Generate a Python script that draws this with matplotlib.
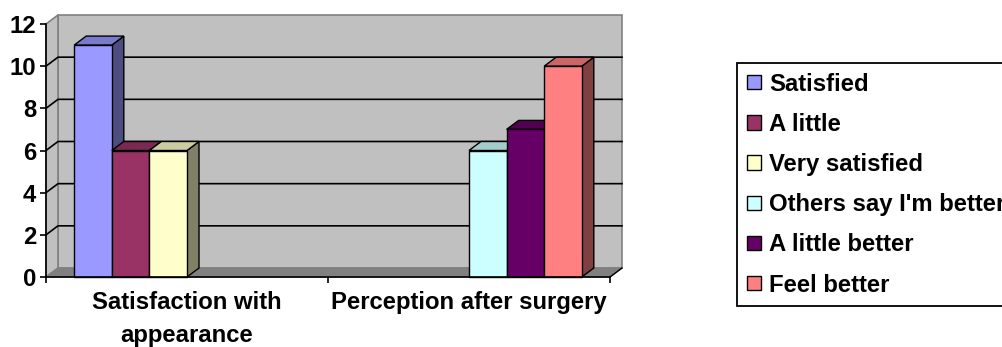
import matplotlib
matplotlib.use("Agg")
import matplotlib.pyplot as plt
from matplotlib.patches import Polygon, Patch

# ---- data -------------------------------------------------------------
categories = ["Satisfaction with\nappearance", "Perception after surgery"]
series_names = ["Satisfied", "A little", "Very satisfied",
                "Others say I'm better", "A little better", "Feel better"]
satisfied = [11, 0]
a_little = [6, 0]
very_satisfied = [6, 0]
others_say_better = [0, 6]
a_little_better = [0, 7]
feel_better = [0, 10]
series_values = [satisfied, a_little, very_satisfied,
                 others_say_better, a_little_better, feel_better]
series_colors = ["#9999FF", "#993366", "#FFFFCC",
                 "#CCFFFF", "#660066", "#FF8080"]
y_ticks = [0, 2, 4, 6, 8, 10, 12]

# ---- style ------------------------------------------------------------
plt.rcParams["font.family"] = ["Liberation Sans", "DejaVu Sans"]
plt.rcParams["font.weight"] = "bold"
FS = 17.2
WALL = "#C0C0C0"
FLOOR = "#808080"
WALL_EDGE = "#808080"
DEPTH_PX = (12, 9)           # oblique depth of walls and bars, in pixels

fig = plt.figure(figsize=(10.03, 3.47), dpi=100)
W, H = 1003, 347
ax = fig.add_axes([46 / W, 70 / H, 564 / W, 253 / H])
ax.set_xlim(0, len(categories))
ax.set_ylim(0, max(y_ticks))
ax.patch.set_visible(False)

# pixel depth -> data units
xr = ax.get_xlim()[1] - ax.get_xlim()[0]
yr = ax.get_ylim()[1] - ax.get_ylim()[0]
DX = DEPTH_PX[0] * xr / (564)
DY = DEPTH_PX[1] * yr / (253)
X0, X1 = ax.get_xlim()
Y0, Y1 = ax.get_ylim()


def poly(pts, fc, ec, lw=1.0, z=1):
    p = Polygon(pts, closed=True, facecolor=fc, edgecolor=ec, linewidth=lw,
                clip_on=False, zorder=z, joinstyle="miter")
    ax.add_patch(p)
    return p


# back wall, side wall, floor
poly([(X0 + DX, Y0 + DY), (X1 + DX, Y0 + DY), (X1 + DX, Y1 + DY), (X0 + DX, Y1 + DY)],
     WALL, WALL_EDGE, 1.2, 0.5)
poly([(X0, Y0), (X0 + DX, Y0 + DY), (X0 + DX, Y1 + DY), (X0, Y1)],
     WALL, WALL_EDGE, 1.2, 0.6)
poly([(X0, Y0), (X1, Y0), (X1 + DX, Y0 + DY), (X0 + DX, Y0 + DY)],
     FLOOR, WALL_EDGE, 1.0, 0.7)
ax.plot([X1, X1 + DX], [Y0, Y0 + DY], color="black", lw=1.0, clip_on=False, zorder=0.8)

# gridlines on the walls
for t in y_ticks[1:-1]:
    ax.plot([X0, X0 + DX, X1 + DX], [t, t + DY, t + DY], color="black",
            lw=1.2, clip_on=False, zorder=0.9)


def shade(color, f):
    r, g, b = matplotlib.colors.to_rgb(color)
    return (r * f, g * f, b * f)


# bars: six slots per category, gap 150% of a bar width split on both sides
n = len(series_values)
bw = 1.0 / (n + 1.5)
gap = 0.75 * bw
for ci in range(len(categories)):
    for si, (vals, col) in enumerate(zip(series_values, series_colors)):
        h = vals[ci]
        if h == 0:
            continue
        x0 = X0 + ci + gap + si * bw
        x1 = x0 + bw
        poly([(x1, 0), (x1 + DX, DY), (x1 + DX, h + DY), (x1, h)],
             shade(col, 0.5), "black", 1.0, 2)
        poly([(x0, h), (x0 + DX, h + DY), (x1 + DX, h + DY), (x1, h)],
             shade(col, 0.8), "black", 1.0, 2)
        poly([(x0, 0), (x1, 0), (x1, h), (x0, h)], col, "black", 1.0, 2)

# axes
for s in ("top", "right"):
    ax.spines[s].set_visible(False)
for s in ("left", "bottom"):
    ax.spines[s].set_color("black")
    ax.spines[s].set_linewidth(1.2)
    ax.spines[s].set_zorder(3)

ax.set_yticks(y_ticks)
ax.set_yticklabels([str(t) for t in y_ticks], fontsize=FS, fontweight="bold")
ax.tick_params(axis="y", direction="out", length=4, width=1.2, pad=3)

ax.set_xticks(range(len(categories) + 1))
ax.set_xticklabels([])
ax.tick_params(axis="x", which="major", direction="out", length=4, width=1.2)
ax.set_xticks([i + 0.5 for i in range(len(categories))], minor=True)
ax.set_xticklabels(categories, minor=True, fontsize=FS, fontweight="bold",
                   linespacing=1.55)
ax.tick_params(axis="x", which="minor", length=0, pad=10)

# legend
handles = [Patch(facecolor=c, edgecolor="black", linewidth=1.0) for c in series_colors]
leg = fig.legend(handles, series_names, loc="upper left",
                 bbox_to_anchor=(737 / W, 1 - 63 / H), bbox_transform=fig.transFigure,
                 prop={"size": FS, "weight": "bold"}, frameon=True, fancybox=False,
                 edgecolor="black", framealpha=1, borderpad=0.4,
                 handlelength=0.6, handleheight=0.55, handletextpad=0.35,
                 labelspacing=0.72, borderaxespad=0)
leg.get_frame().set_linewidth(1.3)

fig.savefig("out.png", dpi=100)
